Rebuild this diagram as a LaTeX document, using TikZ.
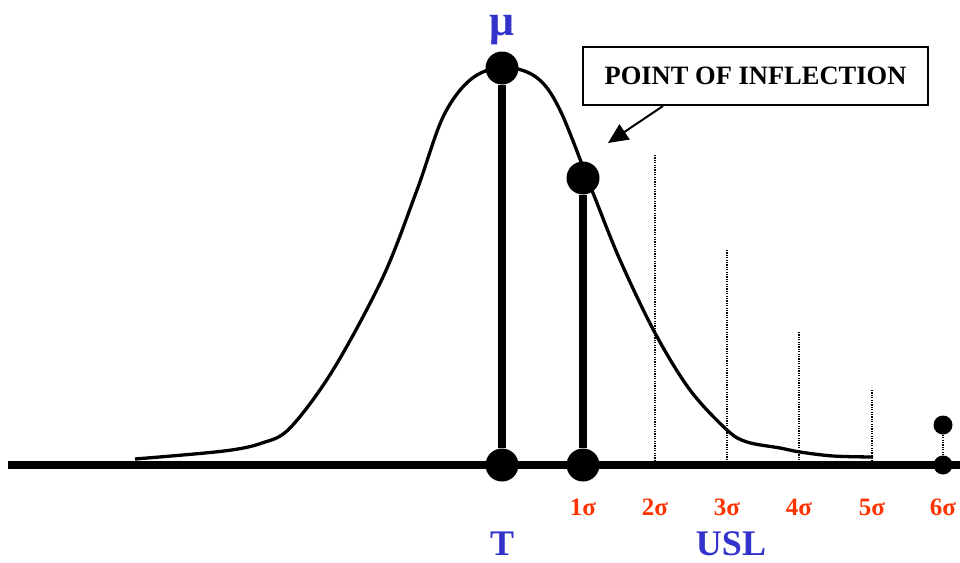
\documentclass[tikz,border=0pt]{standalone}
\usepackage{fontspec}
\setmainfont{Liberation Serif}
\usetikzlibrary{arrows.meta}
\definecolor{sigmared}{HTML}{FF3300}
\definecolor{labelblue}{HTML}{3333CC}
\begin{document}
\begin{tikzpicture}[
            x=1pt,
            y=-1pt,
            dot/.style={circle, fill=black, inner sep=0pt, minimum size=#1},
            stem/.style={line width=7.5pt},
            guide/.style={line width=1.2pt, dash pattern=on 1.2pt off 1.2pt},
            sig/.style={text=sigmared, font=\fontsize{25}{25}\selectfont\bfseries, anchor=base},
            big/.style={text=labelblue, font=\fontsize{36}{36}\selectfont\bfseries, anchor=base}
        ]
        \useasboundingbox (0,0) rectangle (960,562);

        % axis and the curve
        \coordinate (L) at (8,465);
        \coordinate (R) at (960,465);
        \draw[stem] (L) -- (R);
        \draw[line width=3.3pt] plot[smooth, tension=0.55] coordinates {
            (135,459) (224,451) (262,443) (290,428) (333,370) (383,277)
            (417,190) (443,117) (470,80) (502,67) (536,77) (560,110)
            (593,193) (620,260) (655,333) (690,390) (727,430) (747,442)
            (780,448) (800,452) (833,456) (873,457)};

        % mean and one sigma
        \node[dot=33pt] (top) at (502,68) {};
        \node[dot=33pt] (T0) at (502,465) {};
        \draw[stem] (top) -- (T0);
        \node[dot=33pt] (infl) at (583,178) {};
        \node[dot=33pt] (S1) at (583,465) {};
        \draw[stem] (infl) -- (S1);

        % dotted sigma lines
        \coordinate (g2) at (655,155);  \coordinate (S2) at (655,465);
        \coordinate (g3) at (727,250);  \coordinate (S3) at (727,465);
        \coordinate (g4) at (799,332);  \coordinate (S4) at (799,465);
        \coordinate (g5) at (872,390);  \coordinate (S5) at (872,465);
        \draw[guide] (g2) -- (S2);
        \draw[guide] (g3) -- (S3);
        \draw[guide] (g4) -- (S4);
        \draw[guide] (g5) -- (S5);
        \node[dot=19pt] (g6) at (943,425) {};
        \node[dot=19pt] (S6) at (943,465) {};
        \draw[guide] (g6) -- (S6);

        % labels
        \node[sig] (l1) at (583,515) {1σ};
        \node[sig] (l2) at (655,515) {2σ};
        \node[sig] (l3) at (727,515) {3σ};
        \node[sig] (l4) at (799,515) {4σ};
        \node[sig] (l5) at (872,515) {5σ};
        \node[sig] (l6) at (943,515) {6σ};
        \node[big] (tlab) at (502,555) {T};
        \node[big] (usl) at (731,555) {USL};
        \node[big, font=\fontsize{44}{44}\selectfont\bfseries] (mu) at (502,35) {μ};

        % callout
        \node[draw, line width=2pt, minimum width=345pt, minimum height=58pt,
              font=\fontsize{26.5}{26.5}\selectfont\bfseries] (box) at (755.5,76) {POINT OF INFLECTION};
        \coordinate (tip) at (608,143);
        \draw[line width=2pt, -{Triangle[length=20pt,width=18pt]}] (box.south -| 663,0) -- (tip);
    \end{tikzpicture}
\end{document}
